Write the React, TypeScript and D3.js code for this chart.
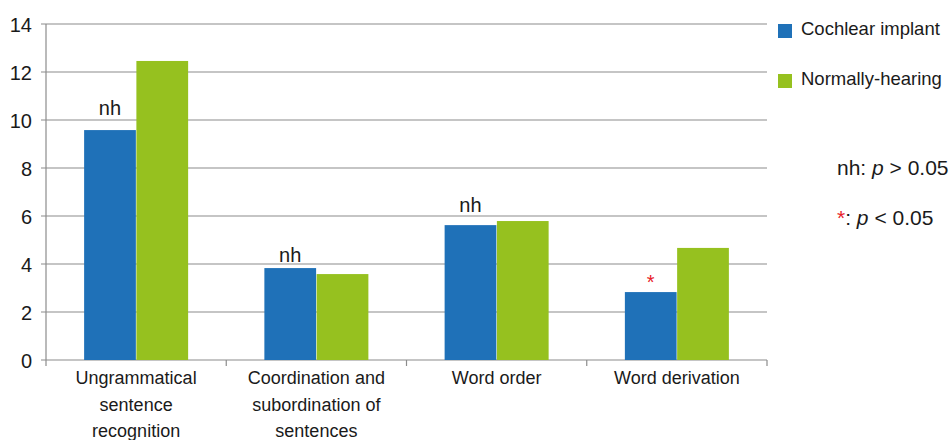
import React from "react";
import * as d3 from "d3";

const categories = [
  ["Ungrammatical", "sentence", "recognition"],
  ["Coordination and", "subordination of", "sentences"],
  ["Word order"],
  ["Word derivation"],
];
const categoryKeys = ["c1", "c2", "c3", "c4"];
const seriesNames = ["Cochlear implant", "Normally-hearing"];
const cochlearImplant = [9.58, 3.83, 5.62, 2.83];
const normallyHearing = [12.46, 3.58, 5.79, 4.67];
const sigLabels = ["nh", "nh", "nh", "*"];
const yTicks = [0, 2, 4, 6, 8, 10, 12, 14];
const colors = ["#1f71b8", "#96c11f"];
const sigGaps = [15, 6, 13, 3.5];

export default function App() {
  const W = 952, H = 440;
  const left = 46, right = 767, top = 24, bottom = 360;
  const y = d3.scaleLinear().domain([0, 14]).range([bottom, top]);
  const x0 = d3.scaleBand<string>().domain(categoryKeys).range([left, right]).paddingInner(0.423).paddingOuter(0.2115);
  const x1 = d3.scaleBand<string>().domain(seriesNames).range([0, x0.bandwidth()]).paddingInner(0.01);
  const step = x0.step();
  const seriesData = [cochlearImplant, normallyHearing];
  const font = "'Liberation Sans', Arial, sans-serif";
  const grid = "#8c8c8c";
  const ink = "#1a1a1a";

  return (
    <svg width={W} height={H} style={{ position: "absolute", left: 0, top: 0, background: "#fff" }} fontFamily={font}>
      {yTicks.map((t) => (
        <g key={t}>
          <line x1={left - 5} x2={right} y1={y(t)} y2={y(t)} stroke={grid} strokeWidth={1.2} />
          <text x={32} y={y(t) + 7.5} textAnchor="end" fontSize={20} fill={ink}>{t}</text>
        </g>
      ))}
      <line x1={left} x2={left} y1={top} y2={bottom + 6} stroke={grid} strokeWidth={1.2} />
      {categoryKeys.map((c) => {
        const xs = (x0(c) as number) - (step - x0.bandwidth()) / 2;
        return <line key={"t" + c} x1={xs + step} x2={xs + step} y1={bottom} y2={bottom + 6} stroke={grid} strokeWidth={1.2} />;
      })}
      {categoryKeys.map((c, i) =>
        seriesNames.map((s, j) => {
          const v = seriesData[j][i];
          return (
            <rect key={c + s} x={(x0(c) as number) + (x1(s) as number)} y={y(v)} width={x1.bandwidth()} height={y(0) - y(v)} fill={colors[j]} />
          );
        })
      )}
      {categoryKeys.map((c, i) => {
        const cx = (x0(c) as number) + (x1(seriesNames[0]) as number) + x1.bandwidth() / 2;
        const lab = sigLabels[i];
        const yy = y(cochlearImplant[i]) - sigGaps[i];
        return lab === "*" ? (
          <text key={"s" + c} x={cx} y={yy} textAnchor="middle" fontSize={20} fill="#e8202a">*</text>
        ) : (
          <text key={"s" + c} x={cx} y={yy} textAnchor="middle" fontSize={20} fill={ink}>{lab}</text>
        );
      })}
      {categoryKeys.map((c, i) => {
        const cx = (x0(c) as number) + x0.bandwidth() / 2;
        return (
          <text key={"l" + c} textAnchor="middle" fontSize={18} fill={ink}>
            {categories[i].map((ln, k) => (
              <tspan key={k} x={cx} y={384 + k * 26.5}>{ln}</tspan>
            ))}
          </text>
        );
      })}
      {seriesNames.map((s, j) => (
        <g key={"lg" + s}>
          <rect x={778} y={24 + j * 50} width={14} height={14} fill={colors[j]} />
          <text x={801} y={35 + j * 50} fontSize={18.5} fill={ink}>{s}</text>
        </g>
      ))}
      <text x={837} y={175} fontSize={21} fill={ink}>nh: <tspan fontStyle="italic">p</tspan> &gt; 0.05</text>
      <text x={837} y={225} fontSize={21} fill={ink}><tspan fill="#e8202a">*</tspan>: <tspan fontStyle="italic">p</tspan> &lt; 0.05</text>
    </svg>
  );
}
